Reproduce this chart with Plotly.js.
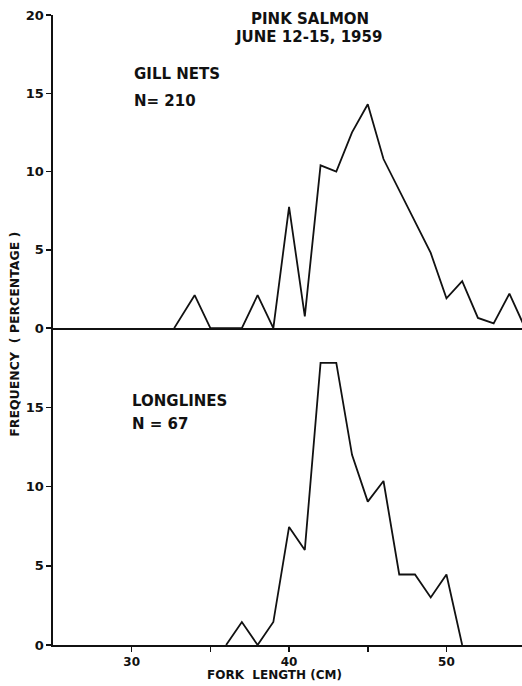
<!DOCTYPE html>
<html>
<head>
<meta charset="utf-8">
<script src="https://cdn.plot.ly/plotly-3.0.1.min.js"></script>
<style>html,body{margin:0;padding:0;background:#fff;overflow:hidden}#chart{width:522px;height:686px}</style>
</head>
<body>
<div id="chart"></div>
<script>
// Fork length (cm) and frequency (%)
const gillLength = [32.7, 34, 35, 37, 38, 39, 40, 41, 42, 43, 44, 45, 46, 47, 48, 49, 50, 51, 52, 53, 54, 55];
const gillFreq   = [0, 2.1, 0, 0, 2.1, 0, 7.75, 0.75, 10.4, 10.0, 12.5, 14.3, 10.8, 8.8, 6.9, 4.8, 1.9, 3.0, 0.65, 0.3, 2.2, 0];
const longLength = [36, 37, 38, 39, 40, 41, 42, 43, 44, 45, 46, 47, 48, 49, 50, 51];
const longFreq   = [0, 1.45, 0, 1.45, 7.45, 6.0, 17.8, 17.8, 12.0, 9.05, 10.35, 4.45, 4.45, 3.0, 4.45, 0];
const xTickVals  = [30, 35, 40, 45, 50, 55];
const xTickText  = ['30', '', '40', '', '50', ''];
const yTopTicks  = [0, 5, 10, 15, 20];
const yBotTicks  = [0, 5, 10, 15];
const titleLines = ['PINK SALMON', 'JUNE 12-15, 1959'];
const gillLabel  = ['GILL NETS', 'N= 210'];
const longLabel  = ['LONGLINES', 'N = 67'];
const xTitle = 'FORK  LENGTH (CM)';
const yTitle = 'FREQUENCY  ( PERCENTAGE )';

const FONT = 'DejaVu Sans';
const lineStyle = {color: '#111', width: 1.8};

const traces = [
  {x: gillLength, y: gillFreq, xaxis: 'x2', yaxis: 'y2', mode: 'lines', line: lineStyle, hoverinfo: 'skip'},
  {x: longLength, y: longFreq, xaxis: 'x', yaxis: 'y', mode: 'lines', line: lineStyle, hoverinfo: 'skip'}
];

const axisCommon = {showgrid: false, zeroline: false, showline: true, linecolor: '#111', linewidth: 1.6,
  tickfont: {family: FONT, size: 13, color: '#111', weight: 'bold'}, tickcolor: '#111', tickwidth: 1.5};

function ann(text, x, y, size, xanchor, extra) {
  return Object.assign({text: text, x: x, y: y, xref: 'paper', yref: 'paper', showarrow: false,
    xanchor: xanchor, yanchor: 'middle', font: {family: FONT, size: size, color: '#111', weight: 'bold'}}, extra || {});
}

const layout = {
  width: 522, height: 686,
  margin: {l: 53, r: 0, t: 15, b: 40.5},
  paper_bgcolor: '#fff', plot_bgcolor: '#fff',
  showlegend: false,
  xaxis: Object.assign({}, axisCommon, {range: [25, 54.8], domain: [0, 1], anchor: 'y',
    tickvals: xTickVals, ticktext: xTickText, ticks: 'outside', ticklen: 5,
    tickfont: {family: FONT, size: 12, color: '#111', weight: 'bold'}}),
  xaxis2: Object.assign({}, axisCommon, {range: [25, 54.8], domain: [0, 1], anchor: 'y2', matches: 'x',
    showticklabels: false, ticks: ''}),
  yaxis: Object.assign({}, axisCommon, {range: [0, 20], domain: [0, 0.503], anchor: 'x',
    tickvals: yBotTicks, ticks: 'outside', ticklen: 5}),
  yaxis2: Object.assign({}, axisCommon, {range: [0, 20], domain: [0.503, 1], anchor: 'x2',
    tickvals: yTopTicks, ticks: 'outside', ticklen: 5}),
  annotations: [
    ann(titleLines[0], 0.548, 0.9937, 15, 'center'),
    ann(titleLines[1], 0.544, 0.965, 15, 'center'),
    ann(gillLabel[0], 0.168, 0.906, 15, 'left'),
    ann(gillLabel[1], 0.168, 0.8636, 15, 'left'),
    ann(longLabel[0], 0.164, 0.388, 15, 'left'),
    ann(longLabel[1], 0.164, 0.351, 15, 'left'),
    ann(xTitle, 0.473, -0.0484, 12, 'center'),
    ann(yTitle, -0.081, 0.4925, 12.5, 'center', {textangle: -90})
  ]
};

Plotly.newPlot('chart', traces, layout, {staticPlot: true, displayModeBar: false});
</script>
</body>
</html>
